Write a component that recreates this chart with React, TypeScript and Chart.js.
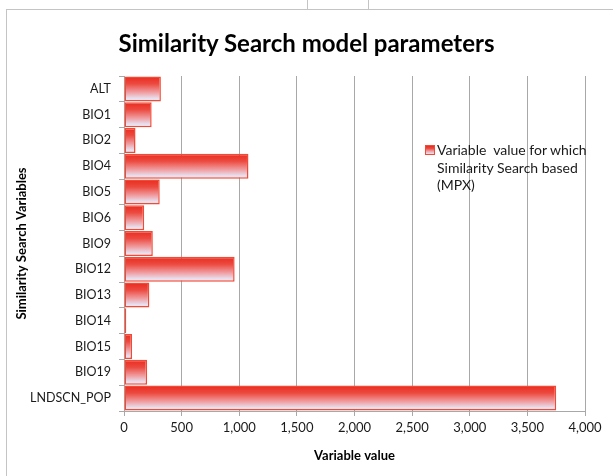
import React, { useEffect, useRef } from "react";
import { Chart, registerables } from "chart.js";

Chart.register(...registerables);

const categories = ["ALT", "BIO1", "BIO2", "BIO4", "BIO5", "BIO6", "BIO9", "BIO12", "BIO13", "BIO14", "BIO15", "BIO19", "LNDSCN_POP"];
const values = [320, 240, 100, 1080, 310, 175, 250, 960, 220, 20, 70, 200, 3750];
const seriesLabel = "Variable  value for which Similarity Search based (MPX)";
const xTicks = [0, 500, 1000, 1500, 2000, 2500, 3000, 3500, 4000];

const FONT = "Lato, 'Open Sans', sans-serif";

export default function App() {
  const ref = useRef<HTMLCanvasElement | null>(null);

  useEffect(() => {
    const canvas = ref.current;
    if (!canvas) return;
    const chart = new Chart(canvas, {
      type: "bar",
      data: {
        labels: categories,
        datasets: [
          {
            label: seriesLabel,
            data: values,
            backgroundColor: (c: any) => {
              const ch = c.chart;
              const ys = ch.scales && ch.scales.y;
              if (!ys || c.type !== "data" || ys.bottom === ys.top) return "#e8301f";
              const band = (ys.bottom - ys.top) / categories.length;
              const center = ys.getPixelForValue(c.dataIndex);
              const top = center - band * 0.485;
              const bottom = center + band * 0.485;
              const g = ch.ctx.createLinearGradient(0, top, 0, bottom);
              g.addColorStop(0, "#ea2a1e");
              g.addColorStop(0.3, "#ec4a40");
              g.addColorStop(0.65, "#f0a0a4");
              g.addColorStop(0.88, "#e8dfee");
              g.addColorStop(1, "#e4e6f4");
              return g;
            },
            borderColor: "#f24a36",
            borderWidth: 1.5,
            borderSkipped: false,
            barPercentage: 0.97,
            categoryPercentage: 1,
          },
        ],
      },
      options: {
        indexAxis: "y",
        responsive: false,
        animation: false,
        layout: { padding: { left: 8, right: 28, top: 76, bottom: 8 } },
        plugins: {
          legend: { display: false },
          title: { display: false },
          tooltip: { enabled: false },
        },
        scales: {
          x: {
            min: 0,
            max: 4000,
            afterFit: (s: any) => {
              s.height = 57;
            },
            afterBuildTicks: (s: any) => {
              s.ticks = xTicks.map((v) => ({ value: v }));
            },
            ticks: {
              color: "#1a1a1a",
              font: { family: FONT, size: 13 },
              padding: 4,
              maxRotation: 0,
              callback: (v: any) => Number(v).toLocaleString("en-US"),
            },
            grid: { color: "#a8a8a8", lineWidth: 1, tickLength: 5 },
            border: { color: "#a8a8a8" },
            title: {
              display: true,
              text: "Variable value",
              color: "#000",
              font: { family: FONT, size: 13, weight: "bold" },
              padding: { top: 0, bottom: 4 },
            },
          },
          y: {
            afterFit: (s: any) => {
              s.width = 116;
            },
            ticks: {
              color: "#1a1a1a",
              font: { family: FONT, size: 12.5 },
              padding: 8,
            },
            grid: { drawOnChartArea: false, offset: true, color: "#a8a8a8", tickLength: 5 },
            border: { color: "#a8a8a8" },
            title: {
              display: true,
              text: "Similarity Search Variables",
              color: "#000",
              font: { family: FONT, size: 13, weight: "bold" },
              padding: { top: 6, bottom: 0 },
            },
          },
        },
      },
    } as any);
    return () => chart.destroy();
  }, []);

  return (
    <div style={{ position: "fixed", left: 0, top: 0, width: 613, height: 476, background: "#fff", overflow: "hidden" }}>
      <div style={{ position: "absolute", left: 6, top: 9, width: 700, height: 600, borderLeft: "1px solid #c4c4c4", borderTop: "1px solid #c4c4c4" }} />
      <div style={{ position: "absolute", left: 307, top: 0, width: 1, height: 9, background: "#c4c4c4" }} />
      <div style={{ position: "absolute", left: 368, top: 0, width: 1, height: 9, background: "#c4c4c4" }} />
      <canvas ref={ref} width={613} height={476} style={{ position: "absolute", left: 0, top: 0 }} />
      <div style={{ position: "absolute", left: 0, width: 613, top: 27, textAlign: "center", fontFamily: FONT, fontWeight: "bold", fontSize: 24, color: "#000", lineHeight: "32px" }}>
        Similarity Search model parameters
      </div>
      <div style={{ position: "absolute", left: 425, top: 141, width: 175, fontFamily: FONT, fontSize: 14, lineHeight: "17.5px", color: "#1a1a1a" }}>
        <span style={{ position: "absolute", left: 0, top: 4, width: 8, height: 8, border: "1px solid #f24a36", background: "linear-gradient(#ea2a1e, #ec4a40 30%, #f0a0a4 65%, #e4e6f4)" }} />
        <div style={{ marginLeft: 12, whiteSpace: "pre" }}>{"Variable  value for which\nSimilarity Search based\n(MPX)"}</div>
      </div>
    </div>
  );
}
